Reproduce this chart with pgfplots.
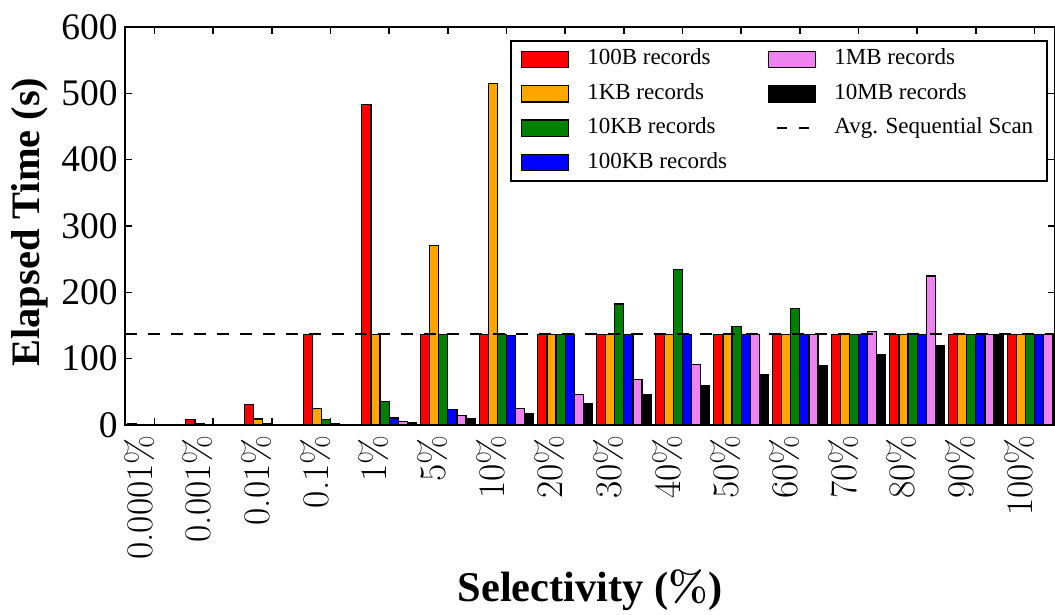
\documentclass[border=0pt]{standalone}
\usepackage{fontspec}
\usepackage{pgfplots}
\usepackage{pgfplotstable}
\pgfplotsset{compat=1.18}
\newfontfamily\timesf{Liberation Serif}
\definecolor{cred}{RGB}{255,0,0}
\definecolor{corange}{RGB}{255,165,0}
\definecolor{cgreen}{RGB}{0,128,0}
\definecolor{cblue}{RGB}{0,0,255}
\definecolor{cpink}{RGB}{238,130,238}
\definecolor{cblack}{RGB}{0,0,0}

\pgfplotstableread{
x r o g b p k
0 1.5 0.5 0.5 0.5 0.5 0.5
1 8.5 1.5 0.5 0.5 0.3 0.3
2 31 9 2 0.5 0.5 0.5
3 137 25 8.5 1.5 0.5 0.5
4 483.5 137 36 10.5 5.5 3.5
5 137 271 137 23.5 14 9.5
6 137 515 137 135 25 17
7 137 137 137 137 46 32
8 137 137 182.5 137 69 46
9 137 137 235 137 91.5 60
10 137 137 149 137 137 76.5
11 137 137 175.5 137 137 89.5
12 137 137 137 137 141 105.5
13 137 137 137 137 224.5 119
14 137 137 137 137 137 137
15 137 137 137 137 137 137
}\data

\newcommand\barleg[1]{\addlegendimage{legend image code/.code={\draw[fill=#1, draw=black, line width=0.6pt] (0pt,-4.1pt) rectangle (23.5pt,4.1pt);}}}

\begin{document}
\begin{tikzpicture}
\begin{axis}[
  scale only axis, width=465pt, height=199pt,
  xmin=-0.503, xmax=15.35, ymin=0, ymax=600,
  xtick={0,...,15},
  xticklabels={0.0001\%,0.001\%,0.01\%,0.1\%,1\%,5\%,10\%,20\%,30\%,40\%,50\%,60\%,70\%,80\%,90\%,100\%},
  ytick={0,100,200,300,400,500,600},
  yticklabel={\timesf\fontsize{18.75}{20}\selectfont\pgfmathprintnumber[assume math mode=true]{\tick}},
  tick align=inside, major tick length=3.75pt,
  tick style={black, line width=0.8pt},
  axis line style={line width=1.1pt},
  xticklabel style={rotate=90, anchor=south east, inner sep=0pt, font=\fontsize{18.75}{20}\selectfont},
  xticklabel shift=5pt,
  yticklabel style={inner sep=0pt},
  yticklabel shift=3.5pt,
  xlabel={Selectivity (\rmfamily\bfseries\%\timesf\bfseries)},
  ylabel={Elapsed Time (s)},
  every axis x label/.style={at={(axis description cs:0.5,-0.4447)}, anchor=base, font=\timesf\bfseries\fontsize{21.2}{24}\selectfont},
  every axis y label/.style={at={(axis description cs:-0.0919,0.51)}, rotate=90, anchor=base, font=\timesf\bfseries\fontsize{20.2}{23}\selectfont},
  legend columns=2,
  legend cell align=left,
  legend style={at={(rel axis cs:0.9925,0.9673)}, anchor=north east, draw=black, line width=0.8pt, fill=white,
    font=\timesf\fontsize{11.5}{13}\selectfont, inner xsep=5pt, inner ysep=2pt,
    row sep=2.6pt,
    nodes={inner sep=2pt, text height=8pt, text depth=2.6pt},
    /tikz/every odd column/.append style={column sep=7pt},
    /tikz/every even column/.append style={column sep=18.5pt}},
]
\addplot[ybar, bar width=0.155, bar shift=-0.3875, fill=cred, draw=black, line width=0.6pt, forget plot] table[x=x,y=r]{\data};
\addplot[ybar, bar width=0.155, bar shift=-0.2325, fill=corange, draw=black, line width=0.6pt, forget plot] table[x=x,y=o]{\data};
\addplot[ybar, bar width=0.155, bar shift=-0.0775, fill=cgreen, draw=black, line width=0.6pt, forget plot] table[x=x,y=g]{\data};
\addplot[ybar, bar width=0.155, bar shift=0.0775, fill=cblue, draw=black, line width=0.6pt, forget plot] table[x=x,y=b]{\data};
\addplot[ybar, bar width=0.155, bar shift=0.2325, fill=cpink, draw=black, line width=0.6pt, forget plot] table[x=x,y=p]{\data};
\addplot[ybar, bar width=0.155, bar shift=0.3875, fill=cblack, draw=black, line width=0.6pt, forget plot] table[x=x,y=k]{\data};
\addplot[black, line width=1pt, dash pattern=on 5.8pt off 5.7pt, forget plot] coordinates {(-0.503,137) (15.35,137)};

\barleg{cred}\addlegendentry{100B records}
\barleg{cpink}\addlegendentry{1MB records}
\barleg{corange}\addlegendentry{1KB records}
\barleg{cblack}\addlegendentry{10MB records}
\barleg{cgreen}\addlegendentry{10KB records}
\addlegendimage{legend image code/.code={\draw[black, line width=1pt, dash pattern=on 5pt off 6pt] (4pt,0pt) -- (20pt,0pt);}}
\addlegendentry{Avg. Sequential Scan}
\barleg{cblue}\addlegendentry{100KB records}

\coordinate (BL) at (rel axis cs:0,0);
\coordinate (TR) at (rel axis cs:1,1);
\end{axis}
\pgfresetboundingbox
\path[use as bounding box] ([xshift=-62.5pt,yshift=-95pt]BL) rectangle ([yshift=13.5pt]TR);
\end{tikzpicture}
\end{document}
